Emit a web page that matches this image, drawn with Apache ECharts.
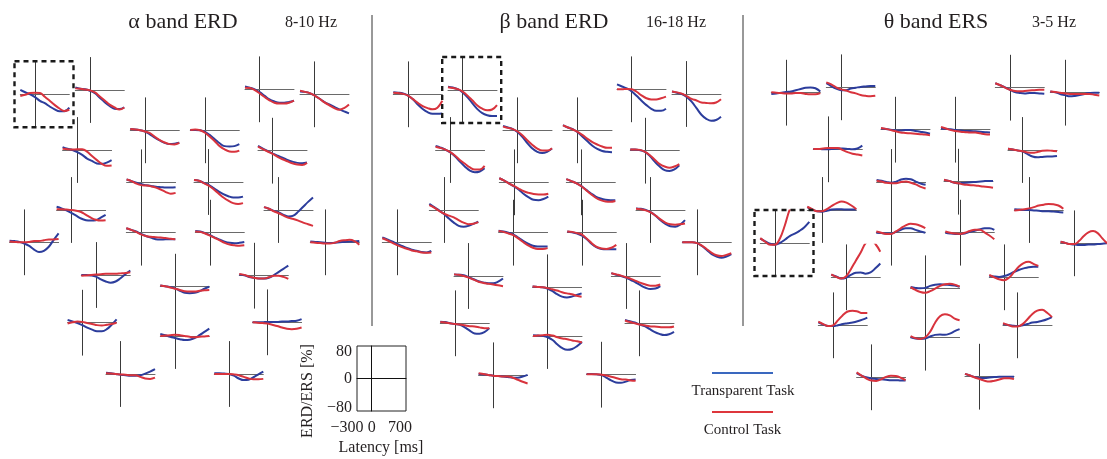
<!DOCTYPE html>
<html>
<head>
<meta charset="utf-8">
<script src="https://cdn.jsdelivr.net/npm/echarts@6/dist/echarts.min.js"></script>
<style>
  html, body { margin: 0; padding: 0; background: #fff; }
  #chart { width: 1107px; height: 459px; }
</style>
</head>
<body>
<div id="chart"></div>
<script>
// Latency samples (ms) shared by every electrode trace
const latency = [-300, -200, -100, 0, 100, 200, 300, 400, 500, 600, 700];

// ERD/ERS (%) per electrode, alpha band 8-10 Hz
const alphaBlue = [
  [11,5,0,-7,-16,-22,-30,-37,-42,-42,-33],
  [6,3,2,-2,-8,-19,-30,-39,-46,-47,-43],
  [7,4,0,-7,-16,-25,-30,-33,-33,-31,-28],
  [7,6,3,-3,-11,-19,-25,-31,-37,-42,-47],
  [3,2,0,-3,-10,-18,-25,-31,-34,-33,-30],
  [1,1,0,-4,-12,-22,-32,-39,-40,-39,-34],
  [7,3,0,-5,-12,-21,-27,-33,-34,-31,-25],
  [12,5,-1,-7,-12,-17,-23,-27,-30,-31,-29],
  [7,3,-1,-5,-7,-9,-11,-12,-13,-13,-12],
  [5,3,-2,-7,-15,-23,-30,-35,-38,-38,-36],
  [8,4,-1,-7,-14,-21,-25,-26,-25,-19,-12],
  [7,3,-2,-6,-12,-16,-14,-4,8,20,31],
  [4,3,1,-3,-9,-18,-24,-21,-11,6,22],
  [11,7,3,-3,-8,-12,-16,-17,-16,-16,-16],
  [4,3,-1,-6,-12,-17,-22,-25,-26,-25,-23],
  [2,1,0,-1,-2,-1,0,1,2,2,3],
  [0,0,-1,-4,-11,-16,-19,-16,-8,2,11],
  [3,1,-1,-4,-10,-15,-16,-15,-11,-5,0],
  [3,1,-3,-5,-7,-7,-5,1,9,17,25],
  [7,3,-1,-6,-12,-17,-21,-21,-16,-5,8],
  [5,2,-2,-5,-8,-10,-9,-5,2,10,18],
  [0,0,0,1,1,1,2,2,3,4,8],
  [3,2,0,-2,-3,-4,-4,-3,1,6,12],
  [2,2,1,0,-4,-11,-15,-14,-8,-1,6]
];
const alphaRed = [
  [-4,-1,3,4,3,-6,-16,-26,-35,-41,-38],
  [4,3,1,-1,-6,-16,-26,-36,-43,-48,-43],
  [4,3,-2,-10,-19,-27,-33,-35,-35,-33,-28],
  [9,6,3,-3,-11,-20,-27,-34,-38,-34,-25],
  [3,2,0,-3,-7,-16,-24,-30,-34,-35,-31],
  [1,2,0,-6,-16,-27,-39,-47,-52,-53,-50],
  [3,2,1,2,2,-4,-15,-25,-34,-39,-38],
  [10,4,-2,-8,-15,-21,-26,-31,-34,-35,-30],
  [7,3,-3,-7,-8,-10,-13,-18,-24,-28,-26],
  [5,3,-3,-9,-18,-28,-38,-46,-52,-54,-52],
  [2,2,1,0,-2,-5,-12,-19,-24,-26,-25],
  [7,3,-3,-8,-14,-19,-22,-26,-31,-35,-39],
  [2,1,0,0,1,3,3,5,7,7,8],
  [11,7,2,-4,-8,-10,-11,-12,-13,-15,-16],
  [3,2,-2,-7,-13,-19,-25,-29,-31,-32,-31],
  [0,-1,-2,-3,-3,-1,3,5,6,3,-6],
  [-2,-1,0,1,2,3,3,3,4,5,7],
  [3,1,-2,-5,-8,-11,-12,-12,-10,-9,-8],
  [4,2,-2,-5,-7,-7,-4,0,0,-3,-8],
  [-2,1,3,2,-1,-3,-6,-7,-5,-3,0],
  [0,1,2,3,2,0,-2,-3,-2,-1,0],
  [0,-1,-2,-3,-6,-9,-13,-16,-17,-16,-13],
  [2,1,0,-1,-2,-3,-3,-7,-11,-12,-9],
  [0,0,0,0,-1,-3,-7,-11,-13,-13,-12]
];

// beta band 16-18 Hz
const betaBlue = [
  [5,4,2,-3,-12,-25,-36,-44,-48,-48,-47],
  [8,6,2,-6,-18,-33,-47,-57,-62,-64,-64],
  [12,7,2,-5,-16,-28,-39,-48,-53,-53,-48],
  [6,3,0,-7,-19,-35,-51,-61,-66,-64,-56],
  [11,7,3,-5,-17,-32,-45,-53,-56,-53,-45],
  [13,7,3,-5,-16,-27,-38,-46,-51,-53,-54],
  [10,6,1,-6,-16,-29,-41,-51,-55,-53,-45],
  [3,3,1,-3,-13,-27,-39,-48,-50,-46,-36],
  [10,4,-3,-10,-18,-29,-37,-43,-44,-41,-35],
  [8,3,-2,-9,-18,-27,-35,-40,-43,-44,-44],
  [15,7,-1,-10,-21,-31,-39,-41,-39,-34,-29],
  [4,3,0,-5,-14,-25,-34,-40,-41,-36,-25],
  [12,7,2,-4,-9,-14,-18,-21,-24,-25,-21],
  [5,3,0,-4,-12,-20,-27,-32,-34,-34,-34],
  [3,1,-2,-7,-16,-28,-36,-40,-41,-41,-41],
  [0,0,0,-2,-9,-19,-29,-35,-38,-35,-29],
  [4,3,2,-3,-8,-13,-16,-18,-18,-14,-6],
  [2,1,0,-3,-9,-17,-23,-25,-23,-19,-15],
  [7,3,0,-4,-10,-16,-23,-29,-32,-31,-25],
  [4,3,0,-2,-4,-10,-18,-25,-26,-22,-12],
  [2,1,0,-3,-10,-21,-30,-34,-32,-25,-15],
  [8,5,2,-3,-7,-14,-21,-26,-29,-27,-21],
  [3,2,1,-1,-2,-3,-4,-6,-6,-3,1],
  [2,2,1,-1,-7,-14,-19,-20,-17,-13,-12]
];
const betaRed = [
  [4,3,1,-3,-12,-21,-29,-34,-37,-33,-16],
  [7,5,2,-4,-14,-26,-38,-46,-50,-48,-37],
  [0,0,1,0,-6,-15,-22,-25,-25,-22,-18],
  [6,4,1,-5,-12,-16,-21,-22,-23,-21,-13],
  [9,6,3,-3,-13,-25,-36,-45,-50,-50,-44],
  [12,7,2,-4,-12,-21,-29,-35,-40,-43,-43],
  [8,5,1,-5,-14,-25,-34,-43,-48,-48,-39],
  [3,3,2,-3,-11,-22,-33,-39,-42,-39,-33],
  [10,4,-3,-9,-16,-22,-26,-29,-30,-30,-28],
  [8,3,-2,-9,-19,-29,-38,-44,-47,-48,-46],
  [12,6,-2,-9,-14,-18,-25,-31,-35,-34,-30],
  [3,2,-1,-6,-14,-23,-31,-35,-36,-35,-33],
  [10,5,-1,-7,-12,-16,-20,-22,-25,-26,-25],
  [4,2,-2,-6,-14,-23,-31,-37,-40,-40,-38],
  [3,2,-1,-5,-15,-26,-35,-39,-40,-37,-30],
  [0,0,0,-2,-8,-17,-26,-32,-34,-31,-27],
  [4,3,0,-4,-9,-14,-17,-19,-21,-23,-25],
  [2,1,0,-2,-5,-8,-12,-15,-17,-21,-23],
  [7,4,1,-3,-7,-12,-17,-21,-24,-24,-21],
  [3,2,0,-2,-3,-5,-7,-8,-10,-12,-12],
  [0,1,2,3,1,-3,-6,-8,-11,-13,-16],
  [7,3,0,-3,-5,-7,-8,-9,-10,-10,-8],
  [5,3,1,-1,-2,-3,-3,-6,-11,-16,-20],
  [1,1,1,0,-2,-5,-8,-11,-12,-14,-15]
];

// theta band 3-5 Hz
const thetaBlue = [
  [-3,-2,0,2,3,6,9,12,13,11,3],
  [10,3,-3,-7,-7,-3,-1,1,2,3,3],
  [11,6,1,-5,-11,-13,-14,-13,-13,-14,-15],
  [3,1,-3,-6,-9,-8,-6,-3,-1,0,0],
  [3,2,0,-2,-2,-1,-1,-3,-5,-7,-10],
  [3,2,1,-1,-2,-3,-3,-4,-5,-6,-7],
  [1,1,0,0,1,2,2,1,0,2,9],
  [3,1,-1,-4,-10,-16,-18,-17,-16,-16,-15],
  [5,3,0,-2,1,6,8,7,1,-4,-7],
  [4,2,-2,-4,-3,-2,-1,0,1,2,2],
  [7,1,-3,-4,-2,1,2,2,1,1,1],
  [2,1,0,0,-1,-2,-3,-3,-4,-5,-6],
  [11,4,-2,-4,0,8,17,23,30,39,52],
  [0,-1,-2,-2,2,7,11,11,7,3,0],
  [0,-2,-3,-3,-2,2,5,8,11,11,7],
  [4,1,-2,-3,-4,-4,-3,-3,-2,-1,0],
  [6,2,-3,-1,6,11,12,9,12,22,34],
  [3,1,0,1,6,9,10,9,8,7,4],
  [4,2,1,3,7,13,18,22,25,26,26],
  [7,2,-2,-2,0,3,5,7,10,14,19],
  [1,-2,-3,-2,3,7,8,7,10,16,21],
  [3,1,-1,-2,0,3,7,8,11,15,20],
  [10,4,0,-3,-4,-5,-6,-7,-7,-8,-8],
  [7,3,-1,-3,-3,-2,-1,0,0,0,0]
];
const thetaRed = [
  [1,0,-1,-2,-2,-1,-1,-3,-4,-4,-1],
  [12,7,0,-5,-8,-12,-15,-19,-21,-22,-21],
  [11,6,0,-5,-8,-9,-8,-7,-6,-5,-5],
  [3,2,0,-2,-3,-3,-3,-3,-3,-5,-7],
  [4,2,-1,-4,-7,-8,-9,-10,-11,-12,-14],
  [7,3,-1,-3,-5,-6,-7,-7,-9,-11,-12],
  [1,1,2,3,3,3,-2,-7,-11,-13,-15],
  [3,1,-1,-3,-6,-7,-5,-2,-1,-2,-3],
  [3,1,-2,-3,-3,0,1,-2,-6,-12,-16],
  [5,2,-2,-4,-7,-8,-9,-10,-12,-13,-15],
  [8,2,-3,-3,2,10,17,21,18,11,2],
  [-1,0,2,4,7,11,13,15,14,11,3],
  [12,3,-4,-4,11,43,82,104,116,122,125],
  [3,0,-3,-3,3,11,18,22,21,17,11],
  [3,0,-2,-3,0,4,7,7,1,-7,-16],
  [4,1,-2,-2,6,18,27,30,25,12,0],
  [7,1,-3,2,20,41,61,84,92,82,63],
  [3,-4,-9,-11,-7,-1,6,10,11,9,4],
  [6,0,-5,-7,-1,12,26,35,38,33,28],
  [9,3,-2,0,12,25,34,36,34,30,30],
  [4,-1,-3,1,15,37,53,58,55,47,43],
  [5,1,-3,-3,3,15,28,36,38,31,20],
  [12,4,-3,-8,-9,-5,1,4,3,-1,-7],
  [7,3,-2,-6,-10,-12,-10,-7,-4,-4,-6]
];

// Scale-bar tick labels
const latencyTicks = [-300, 0, 700];
const percentTicks = [-80, 0, 80];

// Electrode layout: [x of 0 ms, y of 0 %] in pixels for each small plot
const alphaPos = [
  [35,94.3],[90,90],[259.7,89.3],[314.7,94.3],[145,130.3],[205,130.3],
  [77.3,150],[272.7,150.7],[141.3,182.3],[208.7,182],[71.3,210],[278.7,210],
  [24.3,242.3],[141,232.7],[210,232.7],[325,242.3],[96,275],[175,286.7],
  [254,275.7],[82.3,322.7],[175,336],[267.3,322.3],[120.7,374],[229,374]
];
const betaPos = [
  [408,94.3],[462.7,90],[631.7,89.3],[686.7,94],[517.7,130.3],[577.7,130.3],
  [450.3,150],[645,150.7],[514,182.3],[581,182.3],[444,210],[650.7,210],
  [397,242.3],[513.3,232.7],[582,232.7],[697,242.3],[468.7,276],[547.3,287.3],
  [626,276],[455,323.3],[547.7,336],[639.7,323.3],[493.3,375.3],[601.3,374.7]
];
const thetaPos = [
  [786,92.7],[841,87.3],[1010,87.7],[1065,92.7],[895.7,129.7],[955.7,129.7],
  [828,149.3],[1022.7,150],[891.3,182],[958.7,181.7],[822,210],[1029,210],
  [775,243],[891,232.7],[960,232.7],[1075.3,243.3],[846,277.3],[925.3,288.3],
  [1004,277.3],[833,325.3],[925.3,337.7],[1017.7,325.3],[871.3,377.3],[979.7,376.7]
];

const BLUE = '#2c3d9c';
const RED = '#d8333d';
const INK = '#231f20';
const SERIF = '"Liberation Serif", "Times New Roman", serif';

// Plot box geometry: -300..700 ms spans 49 px, -80..80 % spans 65 px
const PW = 49, PH = 65, X0 = 14.7;

const panels = [
  { pos: alphaPos, blue: alphaBlue, red: alphaRed, boxed: 0 },
  { pos: betaPos, blue: betaBlue, red: betaRed, boxed: 1 },
  { pos: thetaPos, blue: thetaBlue, red: thetaRed, boxed: 12 }
];

const grid = [], xAxis = [], yAxis = [], series = [], graphic = [];

function hiddenBits() {
  return { axisTick: { show: false }, axisLabel: { show: false }, splitLine: { show: false } };
}

panels.forEach(p => {
  p.pos.forEach(([vx, hy], i) => {
    const g = grid.length;
    grid.push({ left: vx - X0, top: hy - PH / 2, width: PW, height: PH });
    xAxis.push(Object.assign({
      gridIndex: g, type: 'value', min: -300, max: 700,
      axisLine: { show: true, onZero: true, lineStyle: { color: '#6a6a6a', width: 1 } }
    }, hiddenBits()));
    yAxis.push(Object.assign({
      gridIndex: g, type: 'value', min: -80, max: 80,
      axisLine: { show: true, onZero: true, lineStyle: { color: '#3a3a3a', width: 1 } }
    }, hiddenBits()));
    [[p.blue[i], BLUE], [p.red[i], RED]].forEach(([vals, color]) => {
      series.push({
        type: 'line', xAxisIndex: g, yAxisIndex: g,
        data: latency.map((t, k) => [t, vals[k]]),
        smooth: 0.4, symbol: 'none', silent: true, clip: true,
        lineStyle: { color, width: 2 }
      });
    });
    if (i === p.boxed) {
      graphic.push({
        type: 'rect', silent: true, z: 10,
        shape: { x: vx - 20.5, y: hy - 33, width: 59, height: 66 },
        style: { fill: 'none', stroke: '#1a1a1a', lineWidth: 2.4, lineDash: [5, 4] }
      });
    }
  });
});

// Scale reference box
{
  const g = grid.length;
  grid.push({ left: 357, top: 346, width: PW, height: PH, show: true,
    borderColor: '#222', borderWidth: 1, backgroundColor: 'transparent' });
  // label axes along the frame
  xAxis.push({
    gridIndex: g, type: 'value', min: -300, max: 700, interval: 100, position: 'bottom',
    axisLine: { show: false, onZero: false }, axisTick: { show: false }, splitLine: { show: false },
    axisLabel: {
      margin: 9, color: INK, fontFamily: SERIF, fontSize: 16,
      formatter: v => {
        if (!latencyTicks.includes(v)) return '';
        const s = String(v).replace('-', '\u2212');
        if (v === -300) return '{l|' + s + '}';
        if (v === 700) return '{r|' + s + '}';
        return '{m|' + s + '}';
      },
      rich: {
        l: { fontFamily: SERIF, fontSize: 16, color: INK, padding: [0, 20, 0, 0] },
        r: { fontFamily: SERIF, fontSize: 16, color: INK, padding: [0, 12, 0, 0] },
        m: { fontFamily: SERIF, fontSize: 16, color: INK }
      }
    }
  });
  yAxis.push({
    gridIndex: g, type: 'value', min: -80, max: 80, interval: 80, position: 'left',
    axisLine: { show: false, onZero: false }, axisTick: { show: false }, splitLine: { show: false },
    axisLabel: {
      margin: 5, color: INK, fontFamily: SERIF, fontSize: 16,
      formatter: v => {
        if (!percentTicks.includes(v)) return '';
        const s = String(v).replace('-', '\u2212');
        if (v === 80) return '{t|' + s + '}';
        if (v === -80) return '{b|' + s + '}';
        return '{m|' + s + '}';
      },
      rich: {
        t: { fontFamily: SERIF, fontSize: 16, color: INK, padding: [12, 0, 0, 0] },
        b: { fontFamily: SERIF, fontSize: 16, color: INK, padding: [0, 0, 6, 0] },
        m: { fontFamily: SERIF, fontSize: 16, color: INK }
      }
    }
  });
  // crosshair axes at 0 ms / 0 %
  xAxis.push(Object.assign({
    gridIndex: g, type: 'value', min: -300, max: 700, position: 'top',
    axisLine: { show: true, onZero: true, lineStyle: { color: '#111', width: 1 } }
  }, hiddenBits()));
  yAxis.push(Object.assign({
    gridIndex: g, type: 'value', min: -80, max: 80, position: 'right',
    axisLine: { show: true, onZero: true, lineStyle: { color: '#111', width: 1 } }
  }, hiddenBits()));
  series.push({ type: 'line', xAxisIndex: xAxis.length - 1, yAxisIndex: yAxis.length - 1,
    data: [], symbol: 'none', silent: true });
}

function text(str, x, y, size, extra) {
  return Object.assign({
    type: 'text', silent: true, x, y,
    style: { text: str, font: size + 'px ' + SERIF, fill: INK,
      textAlign: 'center', textVerticalAlign: 'middle' }
  }, extra || {});
}

// Panel titles
graphic.push(text('\u03b1 band ERD', 183, 22, 22));
graphic.push(text('8-10 Hz', 311, 23, 16));
graphic.push(text('\u03b2 band ERD', 554, 22, 22));
graphic.push(text('16-18 Hz', 676, 23, 16));
graphic.push(text('\u03b8 band ERS', 936, 22, 22));
graphic.push(text('3-5 Hz', 1054, 23, 16));

// Panel separators
[372, 743].forEach(x => graphic.push({
  type: 'line', silent: true,
  shape: { x1: x, y1: 15, x2: x, y2: 326 },
  style: { stroke: '#333', lineWidth: 1 }
}));

// Scale box axis names
graphic.push(text('ERD/ERS [%]', 308, 391, 16, { rotation: Math.PI / 2 }));
graphic.push(text('Latency [ms]', 381, 448, 16));

// Legend
graphic.push({ type: 'line', silent: true, shape: { x1: 712, y1: 373, x2: 773, y2: 373 },
  style: { stroke: '#3a68bf', lineWidth: 2 } });
graphic.push(text('Transparent Task', 743, 391, 15));
graphic.push({ type: 'line', silent: true, shape: { x1: 712, y1: 412, x2: 773, y2: 412 },
  style: { stroke: '#de363c', lineWidth: 2 } });
graphic.push(text('Control Task', 742.5, 430, 15));

const chart = echarts.init(document.getElementById('chart'));
chart.setOption({
  animation: false,
  backgroundColor: '#fff',
  grid, xAxis, yAxis, series, graphic
});
</script>
</body>
</html>
